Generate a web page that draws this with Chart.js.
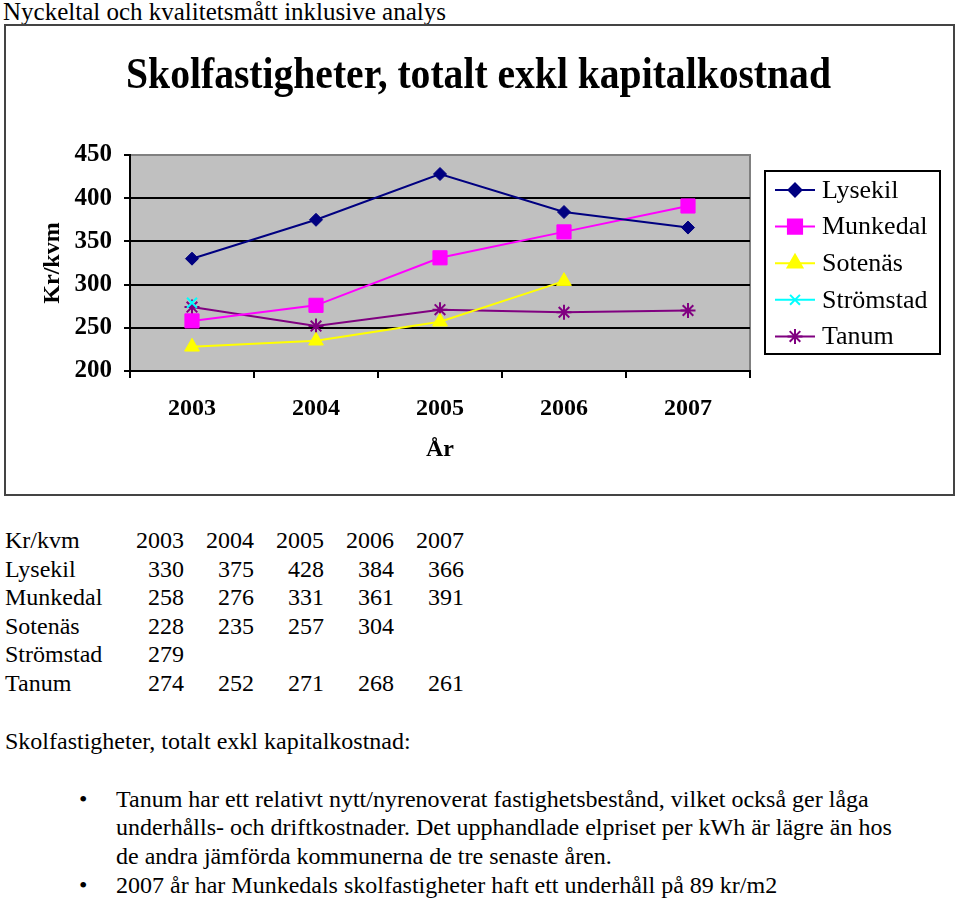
<!DOCTYPE html>
<html lang="sv">
<head>
<meta charset="utf-8">
<title>Skolfastigheter, totalt exkl kapitalkostnad</title>
<script src="https://cdn.jsdelivr.net/npm/chart.js@4.4.0/dist/chart.umd.min.js"></script>
<style>
  body { margin: 0; background: #fff; }
  #page { position: relative; width: 959px; height: 900px; font-family: 'Liberation Serif', 'Times New Roman', serif; color: #000; }
  .txt { position: absolute; white-space: nowrap; font-size: 24px; line-height: 28px; }
  .num { position: absolute; white-space: nowrap; font-size: 24px; line-height: 28px; text-align: right; width: 60px; }
  #frame { position: absolute; left: 4px; top: 24px; width: 951px; height: 472px; box-sizing: border-box; border: 2px solid #444; }
  #chart { position: absolute; left: 0; top: 0; }
</style>
</head>
<body>
<div id="page">
  <div class="txt" style="left:3px; top:-2px; font-size:25px;">Nyckeltal och kvalitetsmått inklusive analys</div>
  <div id="frame"><canvas id="chart" width="947" height="468"></canvas></div>
  <div id="table"></div>
  <div class="txt" style="left:5px; top:727px;">Skolfastigheter, totalt exkl kapitalkostnad:</div>
  <div class="txt" style="left:79px; top:785px;">•</div>
  <div class="txt" style="left:116px; top:785px;">Tanum har ett relativt nytt/nyrenoverat fastighetsbestånd, vilket också ger låga</div>
  <div class="txt" style="left:116px; top:813px;">underhålls- och driftkostnader. Det upphandlade elpriset per kWh är lägre än hos</div>
  <div class="txt" style="left:116px; top:842px;">de andra jämförda kommunerna de tre senaste åren.</div>
  <div class="txt" style="left:79px; top:871px;">•</div>
  <div class="txt" style="left:116px; top:871px;">2007 år har Munkedals skolfastigheter haft ett underhåll på 89 kr/m2</div>
</div>
<script>
// === Data ===
const years = ['2003', '2004', '2005', '2006', '2007'];
const lysekil = [330, 375, 428, 384, 366];
const munkedal = [258, 276, 331, 361, 391];
const sotenas = [228, 235, 257, 304, null];
const stromstad = [279, null, null, null, null];
const tanum = [274, 252, 271, 268, 270];      // som i diagrammet
const tanumTabell = [274, 252, 271, 268, 261]; // som i tabellen
const yTicks = [200, 250, 300, 350, 400, 450];

// === Tabell under diagrammet ===
const rows = [
    ['Kr/kvm', years],
    ['Lysekil', lysekil],
    ['Munkedal', munkedal],
    ['Sotenäs', sotenas],
    ['Strömstad', stromstad],
    ['Tanum', tanumTabell]
];
const tbl = document.getElementById('table');
const colRight = [184, 254, 324, 394, 464];
rows.forEach((r, i) => {
    const top = 526 + i * 28.6;
    let html = '<div class="txt" style="left:5px; top:' + top + 'px;">' + r[0] + '</div>';
    r[1].forEach((v, j) => {
        if (v === null) return;
        html += '<div class="num" style="left:' + (colRight[j] - 60) + 'px; top:' + top + 'px;">' + v + '</div>';
    });
    tbl.insertAdjacentHTML('beforeend', html);
});

// === Diagram ===
const serif = "'Liberation Serif', 'Times New Roman', serif";

const plotBg = {
    id: 'plotBg',
    beforeDraw(chart) {
        const { ctx, chartArea: a } = chart;
        ctx.save();
        ctx.fillStyle = '#c0c0c0';
        ctx.fillRect(a.left, a.top, a.right - a.left, a.bottom - a.top);
        ctx.strokeStyle = '#808080';
        ctx.lineWidth = 2;
        ctx.beginPath();
        ctx.moveTo(a.left, a.top);
        ctx.lineTo(a.right, a.top);
        ctx.lineTo(a.right, a.bottom);
        ctx.stroke();
        ctx.restore();
    }
};

const titleAndLegend = {
    id: 'titleAndLegend',
    afterDraw(chart) {
        const ctx = chart.ctx;
        ctx.save();
        // rubrik
        ctx.fillStyle = '#000';
        ctx.font = 'bold 44px ' + serif;
        ctx.textAlign = 'center';
        ctx.textBaseline = 'alphabetic';
        ctx.translate(chart.width / 2 - 1, 62);
        ctx.scale(0.9, 1);
        ctx.fillText('Skolfastigheter, totalt exkl kapitalkostnad', 0, 0);
        ctx.restore();

        // förklaring
        ctx.save();
        ctx.strokeStyle = '#000';
        ctx.lineWidth = 2;
        ctx.strokeRect(759, 145, 175, 183);
        chart.data.datasets.forEach((ds, i) => {
            const y = 164 + i * 36.6;
            ctx.strokeStyle = ds.borderColor;
            ctx.lineWidth = 2;
            ctx.beginPath();
            ctx.moveTo(769, y);
            ctx.lineTo(809, y);
            ctx.stroke();
            ctx.fillStyle = ds.backgroundColor;
            Chart.helpers.drawPoint(ctx, {
                pointStyle: ds.pointStyle,
                radius: ds.pointRadius,
                rotation: 0,
                borderWidth: ds.pointBorderWidth
            }, 789, y);
            ctx.fillStyle = '#000';
            ctx.font = '26px ' + serif;
            ctx.textAlign = 'left';
            ctx.textBaseline = 'middle';
            ctx.fillText(ds.label, 816, y + 1);
        });
        ctx.restore();
    }
};

function serie(label, data, color, style, radius, borderW) {
    return {
        label: label,
        data: data,
        borderColor: color,
        backgroundColor: color,
        borderWidth: 2,
        pointStyle: style,
        pointRadius: radius,
        pointHoverRadius: radius,
        pointBorderWidth: borderW,
        pointBorderColor: color,
        pointBackgroundColor: color,
        spanGaps: false,
        tension: 0
    };
}

new Chart(document.getElementById('chart'), {
    type: 'line',
    data: {
        labels: years,
        datasets: [
            serie('Lysekil', lysekil, '#000080', 'rectRot', 6.5, 1),
            serie('Munkedal', munkedal, '#ff00ff', 'rect', 10, 1),
            serie('Sotenäs', sotenas, '#ffff00', 'triangle', 8.5, 1),
            serie('Strömstad', stromstad, '#00ffff', 'crossRot', 7, 2),
            serie('Tanum', tanum, '#800080', 'star', 7.5, 2)
        ]
    },
    options: {
        responsive: false,
        animation: false,
        layout: { padding: { left: 0, right: 203, top: 129, bottom: 0 } },
        plugins: {
            legend: { display: false },
            title: { display: false },
            tooltip: { enabled: false }
        },
        scales: {
            x: {
                offset: true,
                afterFit: s => { s.height = 123; },
                grid: { offset: true, drawOnChartArea: false, drawTicks: true, tickLength: 7, color: '#000', lineWidth: 2 },
                border: { display: true, color: '#000', width: 2 },
                ticks: { color: '#000', padding: 16, font: { family: serif, size: 24, weight: 'bold' } },
                title: { display: true, text: 'År', color: '#000', padding: { top: 0, bottom: 30 }, font: { family: serif, size: 24, weight: 'bold' } }
            },
            y: {
                min: yTicks[0],
                max: yTicks[yTicks.length - 1],
                afterFit: s => { s.width = 124; },
                afterBuildTicks: s => { s.ticks = yTicks.map(v => ({ value: v })); },
                grid: {
                    color: c => (c.tick && c.tick.value === 450) ? 'rgba(0,0,0,0)' : '#000',
                    tickColor: '#000',
                    lineWidth: 2,
                    tickLength: 6
                },
                border: { display: true, color: '#000', width: 2 },
                ticks: { color: '#000', padding: 12, font: { family: serif, size: 25, weight: 'bold' } },
                title: { display: true, text: 'Kr/kvm', color: '#000', padding: { top: 32, bottom: 0 }, font: { family: serif, size: 24, weight: 'bold' } }
            }
        }
    },
    plugins: [plotBg, titleAndLegend]
});
</script>
</body>
</html>
